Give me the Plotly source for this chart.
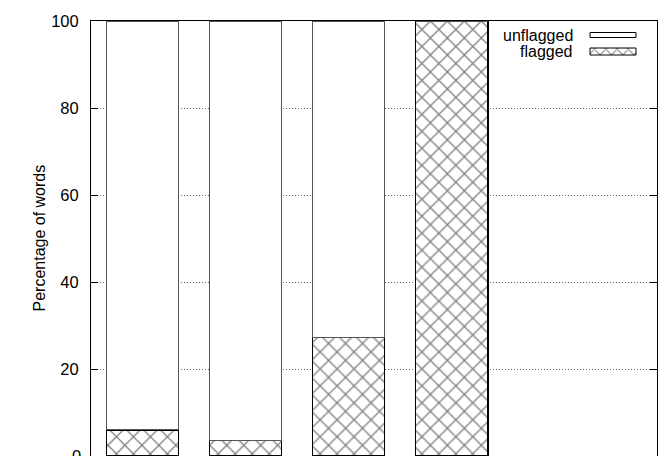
import plotly.graph_objects as go

# Word counts per group, as percentages
groups = ["A", "B", "C", "D"]
flagged = [6.0, 3.5, 27.3, 100.0]
unflagged = [100 - v for v in flagged]
yticks = [0, 20, 40, 60, 80, 100]
series_names = ["unflagged", "flagged"]

FONT = "Liberation Sans, Arial, Helvetica, sans-serif"
W, H = 659, 456
ML, MR, MT, MB = 91, 2, 21, 0

xpos = list(range(len(groups)))

fig = go.Figure()

hatch = dict(shape="x", fgcolor="black", bgcolor="white", size=12, solidity=0.2)

fig.add_trace(go.Bar(
    x=xpos, y=flagged, width=0.7, name=series_names[1],
    marker=dict(color="white", pattern=hatch, line=dict(color="black", width=1.2)),
    showlegend=False,
))
fig.add_trace(go.Bar(
    x=xpos, y=unflagged, width=0.7, name=series_names[0],
    marker=dict(color="white", line=dict(color="#555", width=1)),
    showlegend=False,
))

# Key drawn in pixel space on an overlay axis pair: label text to the left of its sample
key_x0, key_x1 = 590, 636
key_rows = [(32.5, 37.5), (48, 55)]
fig.add_trace(go.Scatter(
    x=[key_x0, key_x1, key_x1, key_x0, key_x0],
    y=[key_rows[0][0], key_rows[0][0], key_rows[0][1], key_rows[0][1], key_rows[0][0]],
    mode="lines", fill="toself", fillcolor="white",
    line=dict(color="black", width=1), xaxis="x2", yaxis="y2",
    showlegend=False, hoverinfo="skip",
))
fig.add_trace(go.Scatter(
    x=[key_x0, key_x1, key_x1, key_x0, key_x0],
    y=[key_rows[1][0], key_rows[1][0], key_rows[1][1], key_rows[1][1], key_rows[1][0]],
    mode="lines", fill="toself", fillcolor="white",
    fillpattern=dict(shape="x", fgcolor="black", bgcolor="white", size=8, solidity=0.25),
    line=dict(color="black", width=1), xaxis="x2", yaxis="y2",
    showlegend=False, hoverinfo="skip",
))
for name, (a, b) in zip(series_names, key_rows):
    fig.add_annotation(
        x=575, y=(a + b) / 2, xref="x2", yref="y2", text=name, showarrow=False,
        xanchor="right", yanchor="middle", font=dict(family=FONT, size=16, color="black"),
    )

fig.add_annotation(
    x=0, y=0.5, xref="paper", yref="paper", text="Percentage of words",
    textangle=-90, showarrow=False, xanchor="center", yanchor="middle",
    xshift=39 - ML, font=dict(family=FONT, size=16, color="black"),
)

# Bottom tick label sits on the lower edge of the page and is only partly visible
fig.add_annotation(
    x=0, y=yticks[0], xref="paper", yref="y", text=str(yticks[0]), showarrow=False,
    xanchor="right", yanchor="middle", xshift=-8,
    font=dict(family=FONT, size=16.5, color="black"),
)

fig.update_layout(
    width=W, height=H,
    margin=dict(l=ML, r=MR, t=MT, b=MB, pad=0),
    paper_bgcolor="white", plot_bgcolor="white",
    barmode="stack",
    font=dict(family=FONT, size=16, color="black"),
    xaxis=dict(
        range=[-0.5, 4.99], showticklabels=False, ticks="", showgrid=False,
        zeroline=False, showline=True, linecolor="black", linewidth=1, mirror=True,
    ),
    yaxis=dict(
        range=[0, 100], tickvals=yticks[1:], ticktext=[str(v) for v in yticks[1:]],
        ticks="inside", ticklen=7, tickcolor="black", tickwidth=1,
        showline=True, linecolor="black", linewidth=1, mirror="ticks",
        showgrid=True, gridcolor="#666", griddash="1px,2px", gridwidth=1,
        zeroline=False, ticklabelstandoff=8,
        tickfont=dict(family=FONT, size=16.5, color="black"),
    ),
    xaxis2=dict(range=[ML, W - MR], overlaying="x", visible=False, fixedrange=True),
    yaxis2=dict(range=[H - MB, MT], overlaying="y", visible=False, fixedrange=True),
)

fig.write_html("out.html")
